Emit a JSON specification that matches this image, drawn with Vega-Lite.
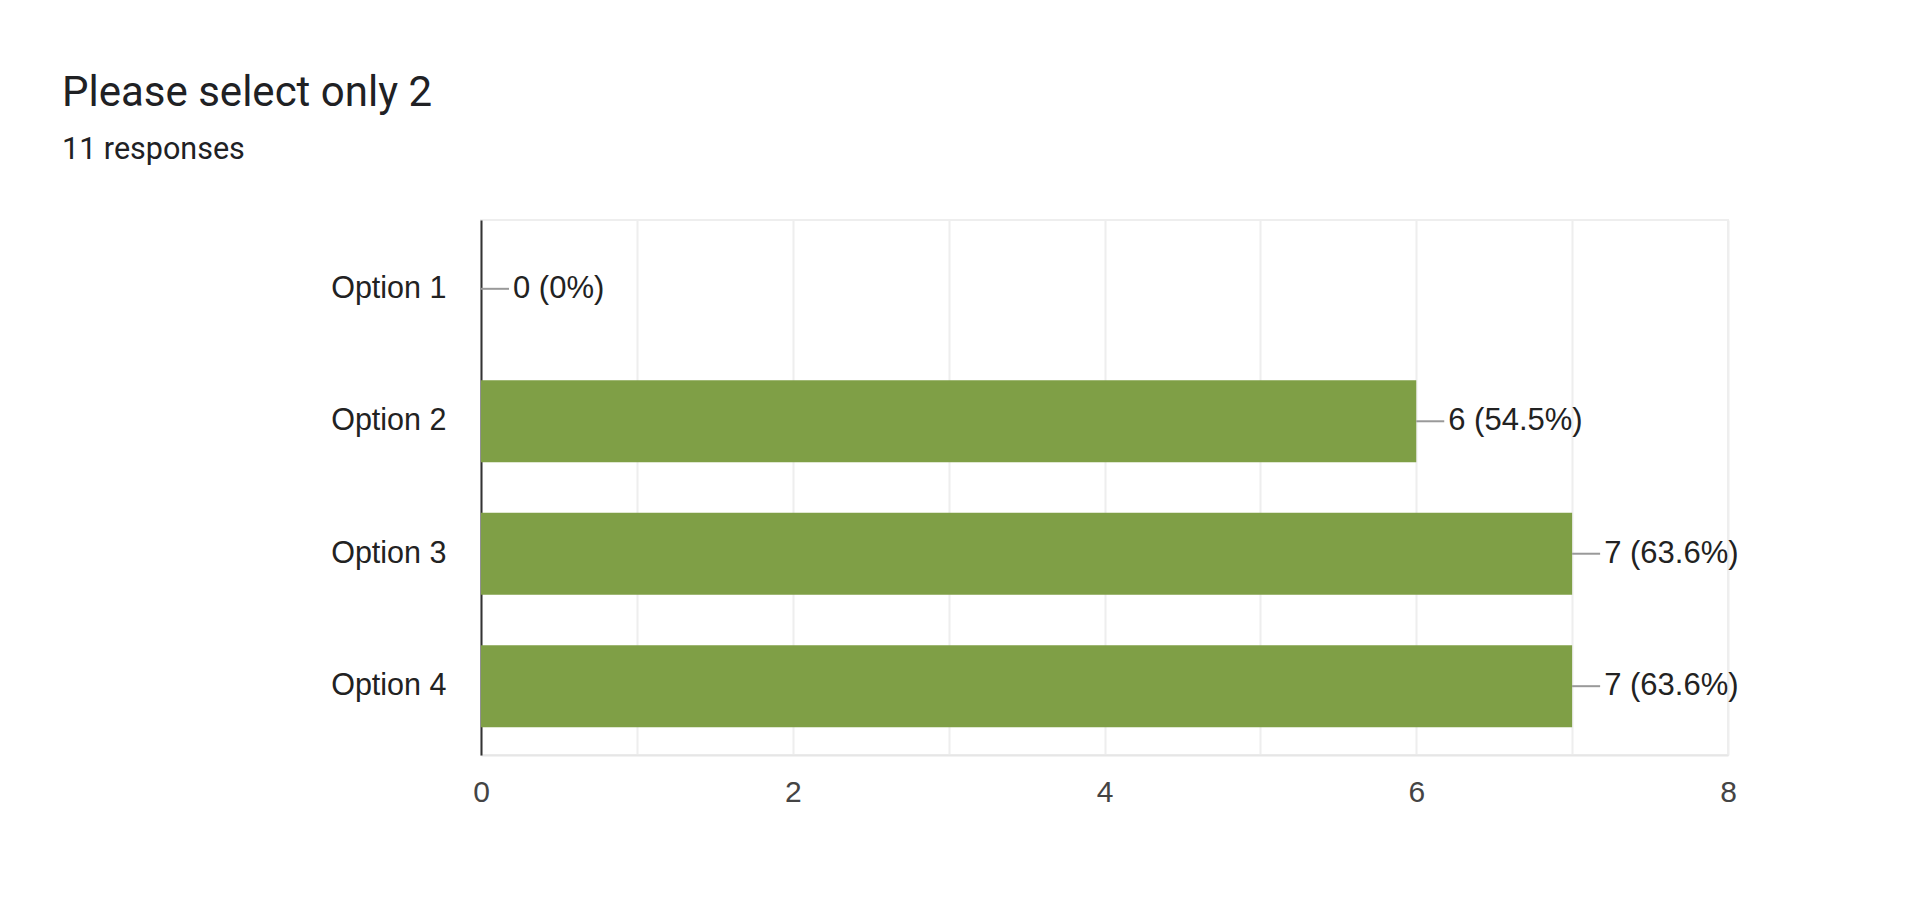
{
  "$schema": "https://vega.github.io/schema/vega-lite/v6.json",
  "autosize": "none",
  "padding": {"left": 481, "top": 220, "right": 192, "bottom": 158},
  "width": 1247,
  "height": 535,
  "background": "white",
  "title": {
    "text": "Please select only 2",
    "subtitle": "11 responses",
    "anchor": "start",
    "frame": "group",
    "dx": -419,
    "offset": 54,
    "font": "Roboto",
    "fontSize": 42,
    "fontWeight": "normal",
    "color": "#202124",
    "subtitleFont": "Roboto",
    "subtitleFontSize": 30.5,
    "subtitleColor": "#202124",
    "subtitlePadding": 20
  },
  "config": {
    "view": {"stroke": "#eeeeee", "strokeWidth": 2},
    "font": "Liberation Sans"
  },
  "data": {
    "values": [
      {"option": "Option 1", "count": 0, "label": "0 (0%)"},
      {"option": "Option 2", "count": 6, "label": "6 (54.5%)"},
      {"option": "Option 3", "count": 7, "label": "7 (63.6%)"},
      {"option": "Option 4", "count": 7, "label": "7 (63.6%)"}
    ]
  },
  "encoding": {
    "y": {
      "field": "option",
      "type": "nominal",
      "title": null,
      "scale": {"paddingInner": 0.381, "paddingOuter": 0.21},
      "axis": {
        "ticks": false,
        "tickSize": 0,
        "labelPadding": 35,
        "labelFont": "Liberation Sans",
        "labelFontSize": 30.5,
        "labelColor": "#222222",
        "domainColor": "#333333",
        "domainWidth": 2,
        "grid": false
      }
    },
    "x": {
      "field": "count",
      "type": "quantitative",
      "title": null,
      "scale": {"domain": [0, 8]},
      "axis": {
        "values": [0, 1, 2, 3, 4, 5, 6, 7, 8],
        "labelExpr": "datum.value % 2 == 0 ? datum.label : ''",
        "labelFlush": false,
        "ticks": false,
        "tickSize": 0,
        "labelPadding": 22,
        "labelFont": "Liberation Sans",
        "labelFontSize": 30,
        "labelColor": "#444444",
        "domainColor": "#e6e6e6",
        "domainWidth": 2,
        "gridColor": "#eeeeee",
        "gridWidth": 2
      }
    }
  },
  "layer": [
    {
      "mark": {"type": "bar", "color": "#7f9f46"}
    },
    {
      "mark": {"type": "rule", "color": "#999999", "strokeWidth": 2, "x2Offset": 28},
      "encoding": {
        "x2": {"field": "count"}
      }
    },
    {
      "mark": {
        "type": "text",
        "align": "left",
        "baseline": "middle",
        "dx": 32,
        "font": "Liberation Sans",
        "fontSize": 31,
        "color": "#222222"
      },
      "encoding": {
        "text": {"field": "label"}
      }
    }
  ]
}
